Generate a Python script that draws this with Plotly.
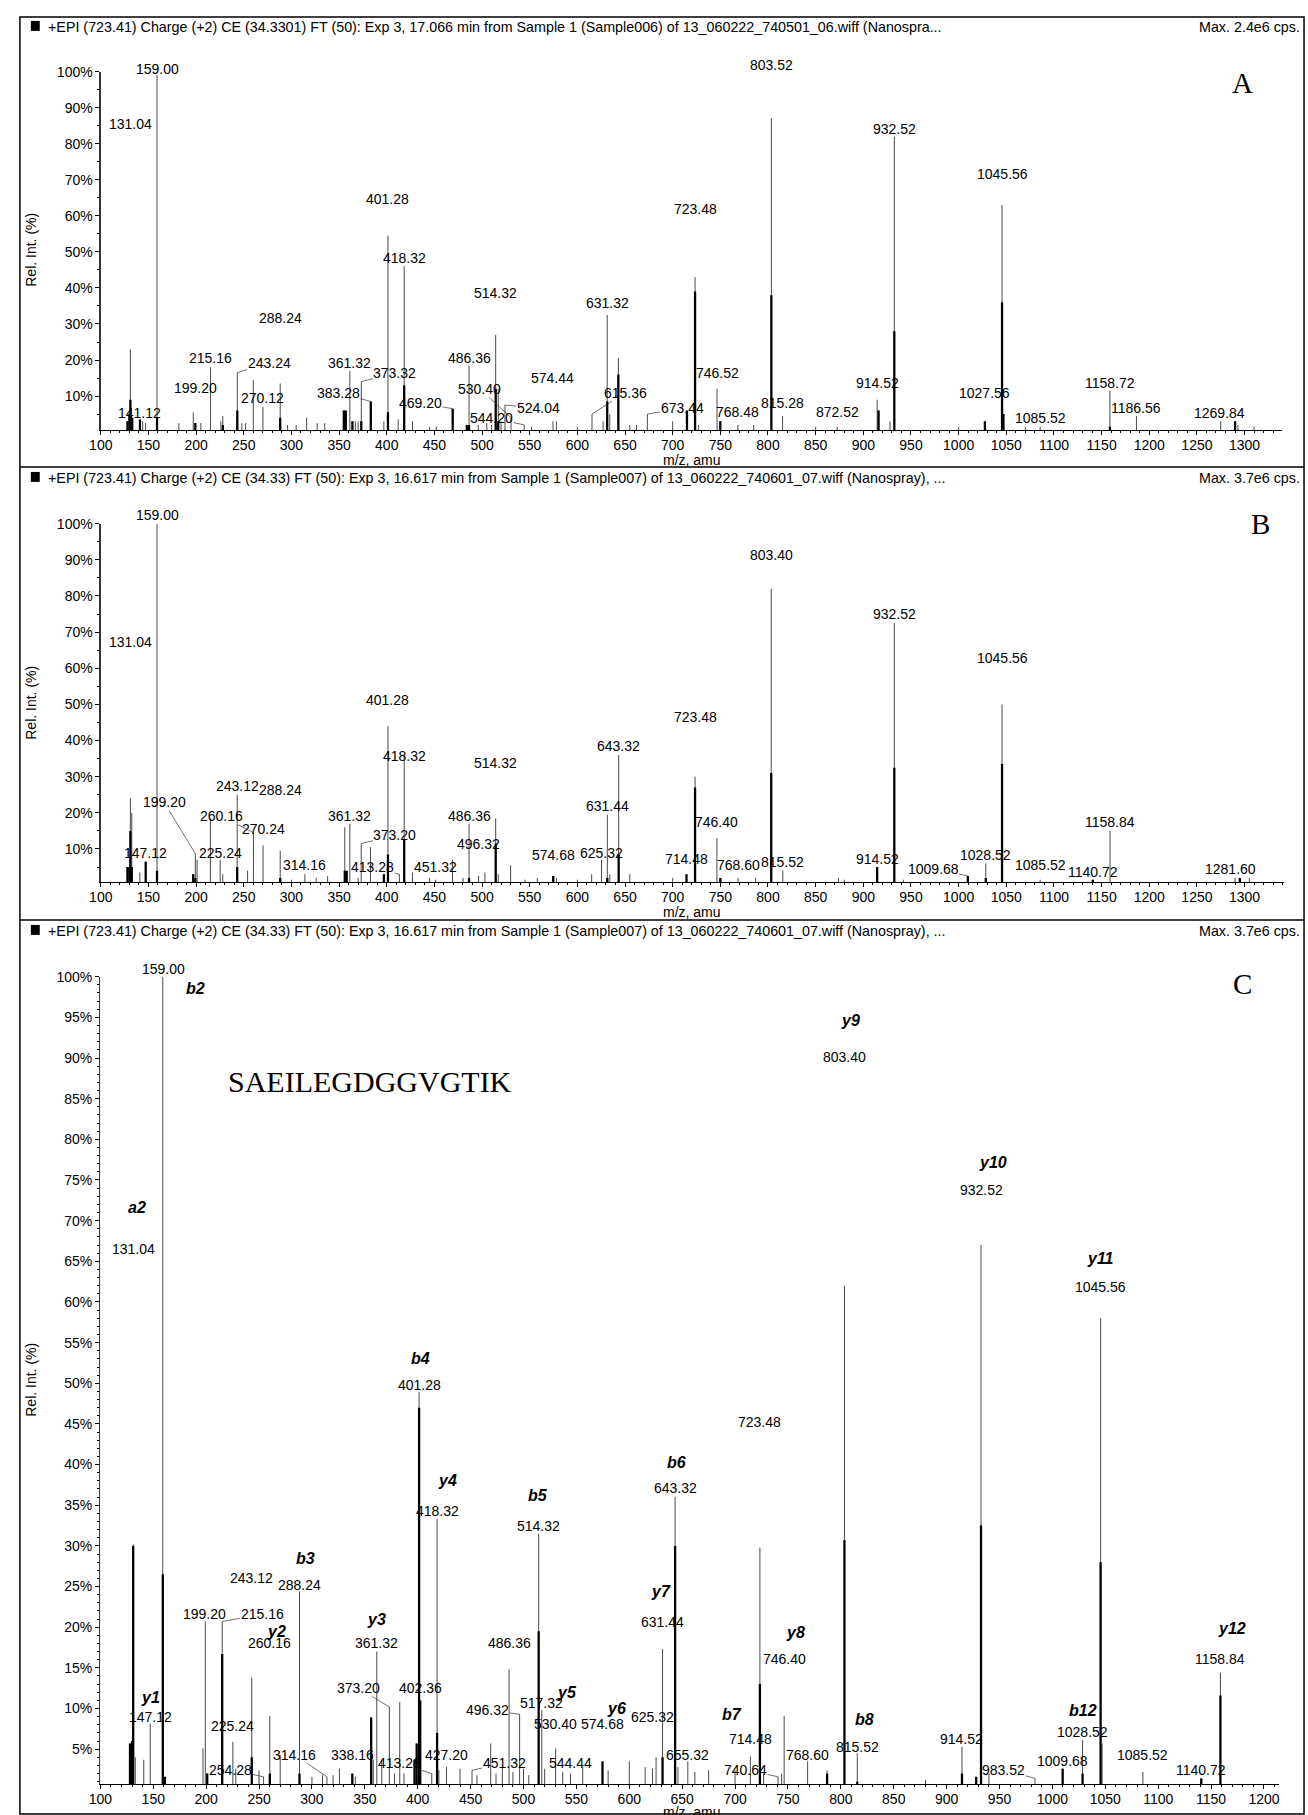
import plotly.graph_objects as go

W, H = 1308, 1815
SANS = "Liberation Sans, Arial, sans-serif"
SERIF = "Liberation Serif, Times New Roman, serif"
LAB = 14      # peak label size
TICK = 14     # tick label size

# ---------------- Panel A ----------------
A_header = "+EPI (723.41) Charge (+2) CE (34.3301) FT (50): Exp 3, 17.066 min from Sample 1 (Sample006) of 13_060222_740501_06.wiff (Nanospra..."
A_max = "Max. 2.4e6 cps."
A_mz = [128, 130, 131.04, 133, 141.12, 144, 147, 159.00, 182, 197,
        199.20, 205, 215.16, 226, 228, 243.24, 248, 252, 260, 270.12,
        288.24, 296, 305, 316, 327, 335, 355, 357, 361.32, 364,
        367, 370, 373.32, 383.28, 397, 401.28, 412, 418.32, 427, 445,
        452, 469.20, 484, 486.36, 496, 505, 510, 514.32, 517, 520,
        524.04, 530.40, 544.20, 552, 574.44, 578, 600, 615.36, 627, 631.32,
        634, 643, 655, 662, 673.44, 700, 715, 723.48, 727, 746.52,
        750, 768.48, 785, 803.52, 815.28, 850, 872.52, 914.52, 916, 928,
        932.52, 1000, 1027.56, 1045.56, 1047, 1070, 1085.52, 1158.72, 1186.56, 1275,
        1290, 1293, 1310]
A_int = [3, 5, 23, 4, 3.5, 3, 2.5, 99, 2.5, 5.5,
         2.5, 2.5, 18, 3, 4.5, 16.5, 2.5, 2.5, 14.5, 7,
         13.5, 2, 2, 4, 2.5, 2.5, 6, 6, 17, 3,
         3, 3, 14, 8.5, 3, 54.5, 3.5, 46, 3, 1.5,
         1.5, 6.5, 2, 18.5, 2, 2.5, 2, 27, 12, 3,
         7.5, 4, 2, 1.5, 3, 3, 1.5, 5, 3, 32.5,
         5, 20.5, 2, 2, 5, 3, 6, 43, 2, 12,
         3, 2, 2, 87, 4.5, 1.5, 1.5, 9, 6, 3,
         82, 1.5, 3, 63, 5, 1.5, 1.5, 11.5, 4.5, 3,
         3, 2, 1.5]
A_core = [3, 5, 9, 4, 3.5, 0, 0, 4, 0, 0,
          2.5, 0, 0, 0, 2, 6, 0, 0, 0, 0,
          4, 0, 0, 0, 0, 0, 6, 6, 0, 3,
          0, 0, 3, 8.5, 0, 5.5, 0, 13, 0, 0,
          0, 6.5, 2, 2, 0, 0, 0, 12, 3, 0,
          0, 0, 0, 0, 0, 0, 0, 0, 0, 8.5,
          0, 16, 0, 0, 0, 0, 6, 39, 0, 0,
          3, 0, 0, 38, 0, 0, 0, 0, 6, 0,
          28, 0, 3, 36, 5, 0, 0, 1.5, 0, 0,
          3, 0, 0]
A_lab_val = [159.00, 131.04, 141.12, 199.20, 215.16, 243.24, 270.12, 288.24, 361.32, 373.32,
             383.28, 401.28, 418.32, 469.20, 486.36, 514.32, 530.40, 524.04, 544.20, 574.44,
             615.36, 631.32, 673.44, 723.48, 746.52, 768.48, 803.52, 815.28, 872.52, 914.52,
             932.52, 1027.56, 1045.56, 1085.52, 1158.72, 1186.56, 1269.84]
A_lab_x = [159, 131.04, 141.12, 199.2, 215.16, 276.8, 270.12, 288.24, 361.32, 408.5,
           349.4, 401.28, 418.32, 435.6, 486.36, 514.32, 497.7, 559, 510, 574.44,
           650, 631.32, 709.9, 723.48, 746.52, 768.48, 803.52, 815.28, 872.52, 914.52,
           932.52, 1027.56, 1045.56, 1085.52, 1158.72, 1186.56, 1274]
A_lab_y = [100.7, 85.5, 5.3, 12.3, 20.6, 19.2, 9.5, 31.6, 19.2, 16.4,
           10.9, 64.8, 48.2, 8.1, 20.6, 38.5, 12, 6.7, 4, 15,
           10.9, 35.8, 6.7, 62, 16.4, 5.5, 102, 8.1, 5.5, 13.6,
           84.1, 10.9, 71.7, 4, 13.6, 6.7, 5.3]

# ---------------- Panel B ----------------
B_header = "+EPI (723.41) Charge (+2) CE (34.33) FT (50): Exp 3, 16.617 min from Sample 1 (Sample007) of 13_060222_740601_07.wiff (Nanospray), ..."
B_max = "Max. 3.7e6 cps."
B_mz = [128, 130, 131.04, 132.5, 141, 147.12, 159.00, 197, 199.20, 201,
        215, 225.24, 228, 243.12, 254, 260.16, 270.24, 288.24, 300, 314.16,
        326, 338, 356, 358, 361.32, 370, 373.20, 383, 397, 401.28,
        413.28, 418.32, 427, 445, 451.32, 469, 480, 486.36, 496.32, 503,
        514.32, 517, 530, 545, 558, 574.68, 578, 600, 615, 625.32,
        631.44, 634, 643.32, 655, 700, 714.48, 723.48, 746.40, 750, 768.60,
        787, 803.40, 815.52, 874, 880, 914.52, 932.52, 942, 1009.68, 1028.52,
        1045.56, 1085.52, 1140.72, 1158.84, 1290, 1295, 1305]
B_int = [5, 5, 24, 20, 3.5, 6.5, 100, 3, 8.7, 7,
         18.5, 7, 3, 25, 4, 14.5, 11, 9.5, 1.5, 3,
         2, 2.5, 16, 4, 17, 2, 11.5, 10.5, 3, 44,
         3, 36, 3.5, 2, 1.5, 7, 2, 17, 2.5, 3.5,
         18.5, 3, 5.5, 1.5, 2, 2.5, 2, 1.5, 3, 7,
         19.5, 3, 36, 3, 2, 3, 30, 13, 2, 2,
         2, 82, 4, 2, 1.5, 5, 72.5, 1.5, 2.5, 6,
         50, 1.5, 1.5, 15, 2, 2, 2]
B_core = [5, 5, 15, 5, 0, 6.5, 4, 3, 2, 0,
          0, 0, 0, 5, 0, 0, 0, 2, 0, 0,
          0, 0, 4, 4, 0, 0, 0, 0, 3, 8.5,
          0, 12.5, 0, 0, 0, 0, 0, 2, 0, 0,
          11.5, 0, 0, 0, 0, 2.5, 0, 0, 0, 0,
          2, 0, 8.5, 0, 0, 3, 27, 0, 2, 0,
          0, 31, 0, 0, 0, 5, 32.5, 0, 2.5, 2,
          33.5, 0, 1.5, 0, 0, 2, 0]
B_lab_val = [159.00, 131.04, 147.12, 199.20, 225.24, 243.12, 260.16, 270.24, 288.24, 314.16,
             361.32, 373.20, 401.28, 413.28, 418.32, 451.32, 486.36, 496.32, 514.32, 574.68,
             625.32, 631.44, 643.32, 714.48, 723.48, 746.40, 768.60, 803.40, 815.52, 914.52,
             932.52, 1009.68, 1028.52, 1045.56, 1085.52, 1140.72, 1158.84, 1281.60]
B_lab_x = [159, 131.04, 147.12, 166.5, 225.24, 243.12, 226.5, 270.24, 288.24, 314.16,
           361.32, 408.5, 401.28, 385.3, 418.32, 451.32, 486.36, 496.32, 514.32, 574.68,
           625.32, 631.44, 643.32, 714.48, 723.48, 746.4, 768.6, 803.4, 815.52, 914.52,
           932.52, 973.3, 1028.52, 1045.56, 1085.52, 1140.72, 1158.84, 1285]
B_lab_y = [102.4, 67.4, 9, 22.9, 9, 27.3, 19.1, 15.6, 26.4, 5.5,
           19.1, 13.8, 51.2, 4.9, 35.6, 4.9, 19.1, 11.3, 33.8, 8.3,
           9, 21.8, 38.5, 7.2, 46.6, 17.4, 5.5, 91.4, 6.4, 7.3,
           75, 4.6, 8.3, 62.9, 5.5, 3.7, 17.4, 4.6]

# ---------------- Panel C ----------------
C_header = B_header
C_max = "Max. 3.7e6 cps."
C_peptide = "SAEILEGDGGVGTIK"
C_mz = [128, 130, 131.04, 133, 141, 147.12, 159.00, 161, 197, 199.20,
        201, 215.16, 225.24, 228, 243.12, 250, 254.28, 260.16, 270, 288.24,
        300, 310, 314.16, 320, 326, 338.16, 341, 356, 358, 361.32,
        366, 373.20, 378, 383, 387, 397, 399, 401.28, 402.36, 413.28,
        418.32, 420, 427.20, 440, 451.32, 456, 469, 474, 480, 486.36,
        490, 496.32, 500, 505, 514.32, 517.32, 520, 530.40, 537, 544.44,
        556, 574.68, 580, 600, 615, 622, 625.32, 631.44, 643.32, 646,
        655.32, 662, 675, 700, 714.48, 723.48, 727, 740.64, 744, 746.40,
        768.60, 787, 803.40, 815.52, 880, 914.52, 928, 932.52, 940, 983.52,
        1009.68, 1028.52, 1045.56, 1047, 1085.52, 1140.72, 1158.84]
C_int = [5.7, 6, 30.2, 4, 3.7, 8.1, 100, 1.6, 5.1, 20.7,
         2, 20.7, 5.9, 2.6, 13.8, 2.4, 1.6, 9.1, 4.3, 24.4,
         1.6, 1.8, 1.6, 1.8, 2.6, 2, 1.6, 8.9, 3.7, 17,
         3.7, 10.2, 2, 10.8, 2, 3.7, 5.7, 48.9, 11, 2,
         33.3, 2.4, 2.8, 2.6, 2.4, 1.8, 5.7, 2, 2.8, 14.8,
         2.2, 9.3, 2.6, 1.8, 31.5, 9.8, 2.6, 5.1, 2.2, 2,
         2.8, 3.5, 2.4, 3.5, 2.8, 2.6, 4, 17.3, 36, 2.8,
         3.5, 2.2, 2.4, 2.4, 4.1, 29.8, 2, 1.6, 2, 9.1,
         3.5, 2.4, 62, 4.5, 1.2, 5.3, 1.6, 67, 2, 1.4,
         2.6, 6.1, 58, 5.7, 2.2, 1.4, 14.4]
C_core = [5.7, 6, 30, 0, 0, 0, 26.5, 1.6, 0, 0,
          2, 16.7, 0, 0, 4, 0, 0, 2, 0, 2,
          0, 0, 0, 0, 0, 2, 0, 8.9, 0, 0,
          0, 0, 0, 0, 0, 3.7, 5.7, 47, 11, 0,
          7, 0, 0, 0, 0, 0, 0, 0, 0, 0,
          0, 0, 0, 0, 19.5, 0, 0, 0, 0, 0,
          0, 3.5, 0, 0, 0, 0, 0, 4, 30, 0,
          0, 0, 0, 0, 0, 13, 0, 0, 0, 0,
          0, 2, 30.7, 1, 0, 2, 1.6, 32.5, 0, 0,
          2.6, 2, 28, 0, 0, 1.4, 11.6]
C_lab_val = [159.00, 131.04, 147.12, 199.20, 215.16, 225.24, 243.12, 254.28, 260.16, 288.24,
             314.16, 338.16, 361.32, 373.20, 401.28, 402.36, 413.28, 418.32, 427.20, 451.32,
             486.36, 496.32, 514.32, 517.32, 530.40, 544.44, 574.68, 625.32, 631.44, 643.32,
             655.32, 714.48, 723.48, 740.64, 746.40, 768.60, 803.40, 815.52, 914.52, 932.52,
             983.52, 1009.68, 1028.52, 1045.56, 1085.52, 1140.72, 1158.84]
C_lab_x = [159.6, 131.6, 147.12, 198.5, 253, 225.24, 243.12, 223.4, 260.16, 288.24,
           283.8, 338.16, 361.32, 343.6, 401.28, 402.36, 383, 418.32, 427.2, 481.6,
           486.36, 465.9, 514.32, 517.32, 530.4, 544.44, 574.68, 621.6, 631.44, 643.32,
           655.32, 714.48, 723.48, 710, 746.4, 768.6, 803.4, 815.52, 914.52, 932.52,
           954, 1009.68, 1028.52, 1045.56, 1085.52, 1140.72, 1158.84]
C_lab_y = [101, 66.5, 9, 21.6, 21.6, 7.9, 26.1, 2.5, 18, 25.2,
           4.3, 4.3, 18, 12.5, 49.8, 12.5, 3.3, 34.3, 4.3, 3.3,
           18, 9.8, 32.5, 10.7, 8.1, 3.3, 8.1, 9, 20.7, 37.1,
           4.3, 6.2, 45.2, 2.5, 16.1, 4.3, 90.1, 5.3, 6.2, 73.8,
           2.5, 3.5, 7.1, 61.8, 4.3, 2.5, 16.1]
C_ion_name = ["a2", "b2", "y1", "b3", "y2", "y3", "b4", "y4", "b5", "y5", "y6",
              "y7", "b6", "b7", "y8", "b8", "y9", "y10", "y11", "b12", "y12"]
C_ion_x = [134.8, 190, 147.7, 293.6, 266.8, 361.32, 402.8, 428.4, 514, 540.8, 588,
           630, 644.7, 697, 756.8, 822, 809.3, 943.4, 1045, 1029, 1170]
C_ion_y = [71.6, 98.6, 11.4, 28.5, 19.5, 20.9, 53, 38, 36.2, 12, 10,
           24.4, 40.2, 9.3, 19.3, 8.7, 94.6, 77.1, 65.3, 9.7, 19.9]

for a, b, c in [(A_mz, A_int, A_core), (B_mz, B_int, B_core), (C_mz, C_int, C_core)]:
    assert len(a) == len(b) == len(c)

# ---------------- helpers ----------------
def px(x):
    return x / W


def py(y):
    return 1 - y / H


def stems(mz, h):
    xs, ys = [], []
    for m, v in zip(mz, h):
        if v <= 0:
            continue
        xs += [m, m, None]
        ys += [0, v, None]
    return xs, ys


panels = [
    dict(mz=A_mz, inten=A_int, core=A_core, lv=A_lab_val, lx=A_lab_x, ly=A_lab_y,
         xa="x", ya="y", xd=(89.6, 1282), xr=(100, 100 + (1282 - 89.6) / 0.962),
         yd=(424, 64), yr=(0.55, 100), ystep=10, yminor=5,
         header=A_header, maxt=A_max, hy=19, title_y=243, mz_y=454, letter="A", letter_xy=(1242, 75)),
    dict(mz=B_mz, inten=B_int, core=B_core, lv=B_lab_val, lx=B_lab_x, ly=B_lab_y,
         xa="x2", ya="y2", xd=(89.6, 1284), xr=(100, 100 + (1284 - 89.6) / 0.962),
         yd=(878, 518), yr=(0.83, 100), ystep=10, yminor=5,
         header=B_header, maxt=B_max, hy=472, title_y=698, mz_y=908, letter="B", letter_xy=(1260, 518)),
    dict(mz=C_mz, inten=C_int, core=C_core, lv=C_lab_val, lx=C_lab_x, ly=C_lab_y,
         xa="x3", ya="y3", xd=(89.2, 1279), xr=(100, 100 + (1279 - 89.2) / 1.0676),
         yd=(1784, 973), yr=(0.7, 100), ystep=5, yminor=1,
         header=C_header, maxt=C_max, hy=927, title_y=1378, mz_y=1812, letter="C", letter_xy=(1242, 980)),
]


def paper_y(p, v):
    b, t = p["yd"]
    r0, r1 = p["yr"]
    return py(b - (v - r0) / (r1 - r0) * (b - t))


fig = go.Figure()
annotations = []
shapes = []
layout_axes = {}

for i, p in enumerate(panels):
    sfx = "" if i == 0 else str(i + 1)
    xs, ys = stems(p["mz"], p["inten"])
    fig.add_trace(go.Scatter(x=xs, y=ys, mode="lines", xaxis=p["xa"], yaxis=p["ya"],
                             line=dict(color="#4a4a4a", width=1), hoverinfo="skip", showlegend=False))
    xs, ys = stems(p["mz"], p["core"])
    fig.add_trace(go.Scatter(x=xs, y=ys, mode="lines", xaxis=p["xa"], yaxis=p["ya"],
                             line=dict(color="black", width=2.3), hoverinfo="skip", showlegend=False))
    fig.add_trace(go.Scatter(x=[97.5], y=[p["yr"][0] + 0.6], mode="markers", xaxis=p["xa"], yaxis=p["ya"],
                             marker=dict(symbol="triangle-right-open", size=9, color="black",
                                         line=dict(width=1, color="black")),
                             cliponaxis=False, hoverinfo="skip", showlegend=False))

    tv = list(range(p["ystep"], 101, p["ystep"]))
    layout_axes["xaxis" + sfx] = dict(
        domain=[px(p["xd"][0]), px(p["xd"][1])], range=list(p["xr"]), anchor=p["ya"],
        showgrid=False, zeroline=False, showline=True, linecolor="black", linewidth=1,
        ticks="outside", ticklen=4, tickcolor="black", tick0=100, dtick=50,
        ticklabelstandoff=-2,
        tickfont=dict(family=SANS, size=TICK, color="black"),
        minor=dict(dtick=10, tick0=100, ticks="outside", ticklen=2, tickcolor="black"),
        fixedrange=True)
    layout_axes["yaxis" + sfx] = dict(
        domain=[py(p["yd"][0]), py(p["yd"][1])], range=list(p["yr"]), anchor=p["xa"],
        showgrid=False, zeroline=False, showline=True, linecolor="#333", linewidth=1.3,
        ticks="outside", ticklen=4, tickcolor="black",
        tickvals=tv, ticktext=[f"{v}%" for v in tv],
        tickfont=dict(family=SANS, size=TICK, color="black"),
        minor=dict(dtick=p["yminor"], ticks="outside", ticklen=2, tickcolor="black"),
        fixedrange=True)

    hmap = dict(zip(p["mz"], p["inten"]))
    for v, lx, ly in zip(p["lv"], p["lx"], p["ly"]):
        txt = f"{v:.2f}"
        font = dict(family=SANS, size=LAB, color="black")
        if abs(lx - v) > 8:
            h = hmap.get(v, 2)
            annotations.append(dict(x=v, y=h, xref=p["xa"], yref=p["ya"], ax=lx, ay=ly,
                                    axref=p["xa"], ayref=p["ya"], text=txt, showarrow=True,
                                    arrowhead=0, arrowwidth=0.7, arrowcolor="#333", standoff=0,
                                    borderpad=0, font=font))
        elif ly > p["yr"][1]:
            annotations.append(dict(x=lx, y=paper_y(p, ly), xref=p["xa"], yref="paper", text=txt,
                                    showarrow=False, xanchor="center", yanchor="middle", borderpad=0,
                                    font=font))
        else:
            annotations.append(dict(x=lx, y=ly, xref=p["xa"], yref=p["ya"], text=txt, showarrow=False,
                                    xanchor="center", yanchor="middle", borderpad=0, font=font))

    annotations.append(dict(x=px(34), y=py(p["hy"]), xref="paper", yref="paper", text=p["header"],
                            showarrow=False, xanchor="left", yanchor="middle",
                            font=dict(family=SANS, size=14.3, color="black")))
    annotations.append(dict(x=px(1302), y=py(p["hy"]), xref="paper", yref="paper", text=p["maxt"],
                            showarrow=False, xanchor="right", yanchor="middle",
                            font=dict(family=SANS, size=14.3, color="black")))
    shapes.append(dict(type="rect", xref="paper", yref="paper", x0=px(19), x1=px(28),
                       y0=py(p["hy"] - 6), y1=py(p["hy"] + 4), fillcolor="black", line=dict(width=0)))
    annotations.append(dict(x=px(19), y=py(p["title_y"]), xref="paper", yref="paper", text="Rel. Int. (%)",
                            textangle=-90, showarrow=False, xanchor="center", yanchor="middle",
                            font=dict(family=SANS, size=14, color="black")))
    annotations.append(dict(x=px(686), y=py(p["mz_y"]), xref="paper", yref="paper", text="m/z, amu",
                            showarrow=False, xanchor="center", yanchor="middle",
                            font=dict(family=SANS, size=14, color="black")))
    annotations.append(dict(x=px(p["letter_xy"][0]), y=py(p["letter_xy"][1]), xref="paper", yref="paper",
                            text=p["letter"], showarrow=False, xanchor="center", yanchor="middle",
                            font=dict(family=SERIF, size=29, color="black")))

for n, x, y in zip(C_ion_name, C_ion_x, C_ion_y):
    annotations.append(dict(x=x, y=y, xref="x3", yref="y3", text=f"<b><i>{n}</i></b>", showarrow=False,
                            xanchor="center", yanchor="middle",
                            font=dict(family=SANS, size=16, color="black")))

annotations.append(dict(x=px(361), y=py(1078), xref="paper", yref="paper", text=C_peptide,
                        showarrow=False, xanchor="center", yanchor="middle",
                        font=dict(family=SERIF, size=30, color="black")))

shapes.append(dict(type="rect", xref="paper", yref="paper", x0=px(8), x1=px(1304), y0=py(1814), y1=py(9),
                   line=dict(color="black", width=1.5)))
for yy in (461, 916):
    shapes.append(dict(type="line", xref="paper", yref="paper", x0=px(8), x1=px(1304), y0=py(yy), y1=py(yy),
                       line=dict(color="black", width=1.5)))

fig.update_layout(
    width=W, height=H, autosize=False,
    margin=dict(l=0, r=0, t=0, b=0),
    paper_bgcolor="white", plot_bgcolor="white",
    showlegend=False, annotations=annotations, shapes=shapes,
    **layout_axes,
)

fig.write_html("out.html", config={"displayModeBar": False, "staticPlot": True},
               post_script="document.body.style.margin='0';document.body.style.padding='0';"
                           "document.body.style.overflow='hidden';")
